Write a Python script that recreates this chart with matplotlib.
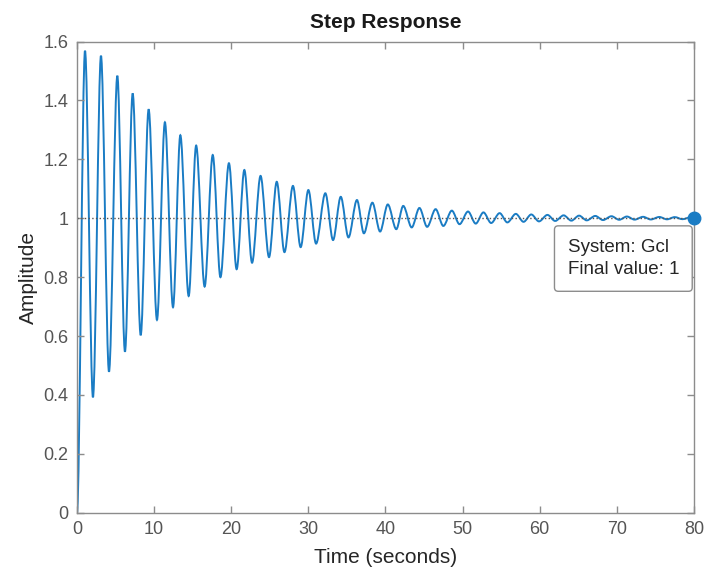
import numpy as np
import matplotlib
matplotlib.use('Agg')
import matplotlib.pyplot as plt
from matplotlib.path import Path
from matplotlib.patches import PathPatch

# extrema of the step response (time in s, amplitude)
peak_t = [1.04, 3.11, 5.23, 7.22, 9.29, 11.4, 13.4, 15.45, 17.6, 19.7, 21.7, 23.8, 25.9,
          28.0, 30.0, 32.2, 34.2, 36.3, 38.3, 40.3, 42.3, 44.4, 46.5, 48.6, 50.7, 52.7,
          54.8, 56.9, 58.9, 61.0, 63.1, 65.1, 67.2, 69.3, 71.3, 73.4, 75.5, 77.5, 79.6]
peak_y = [1.569, 1.552, 1.484, 1.424, 1.370, 1.326, 1.282, 1.247, 1.215, 1.187, 1.164,
          1.144, 1.124, 1.110, 1.096, 1.085, 1.073, 1.062, 1.053, 1.047, 1.042, 1.035,
          1.031, 1.026, 1.023, 1.020, 1.0175, 1.015, 1.013, 1.0115, 1.010, 1.009, 1.008,
          1.007, 1.006, 1.005, 1.0045, 1.004, 1.0035]
trough_t = [2.07, 4.15, 6.22, 8.26, 10.37, 12.45, 14.48, 16.55, 18.6, 20.7, 22.7, 24.9,
            26.9, 29.0, 31.0, 33.2, 35.2, 37.2, 39.3, 41.4, 43.4, 45.4, 47.5, 49.6, 51.7,
            53.7, 55.8, 57.9, 59.9, 62.0, 64.1, 66.1, 68.2, 70.3, 72.3, 74.4, 76.5, 78.5]
trough_y = [0.392, 0.479, 0.547, 0.603, 0.655, 0.698, 0.736, 0.768, 0.800, 0.827, 0.849,
            0.868, 0.885, 0.902, 0.914, 0.926, 0.935, 0.949, 0.955, 0.963, 0.969, 0.971,
            0.974, 0.980, 0.982, 0.984, 0.986, 0.988, 0.9895, 0.991, 0.992, 0.993, 0.994,
            0.995, 0.9955, 0.996, 0.9965, 0.997]
final_t = 80
final_y = 1.0

xticks = [0, 10, 20, 30, 40, 50, 60, 70, 80]
yticks = [0, 0.2, 0.4, 0.6, 0.8, 1.0, 1.2, 1.4, 1.6]
ytick_labels = ['0', '0.2', '0.4', '0.6', '0.8', '1', '1.2', '1.4', '1.6']

t = np.concatenate([[0.0], peak_t, trough_t, [final_t]])
y = np.concatenate([[0.0], peak_y, trough_y, [final_y]])
order = np.argsort(t)
t, y = t[order], y[order]

# smooth line through the extrema: cubic bezier pieces, flat at each extremum
verts = [(t[0], y[0])]
codes = [Path.MOVETO]
for i in range(len(t) - 1):
    d = t[i + 1] - t[i]
    verts += [(t[i] + d / 3, y[i]), (t[i + 1] - d / 3, y[i + 1]), (t[i + 1], y[i + 1])]
    codes += [Path.CURVE4] * 3

plt.rcParams['font.family'] = ['Liberation Sans', 'DejaVu Sans']

fig = plt.figure(figsize=(7.07, 5.73), dpi=100)
ax = fig.add_axes([0.1089, 0.1051, 0.8727, 0.8223])

ax.axhline(final_y, ls=':', color='#555555', lw=1.0)
ax.add_patch(PathPatch(Path(verts, codes), fill=False, ec='#1a7cc4', lw=1.4))
ax.plot(final_t, final_y, 'o', color='#1a7cc4', ms=9, clip_on=False, zorder=5)

ax.annotate('System: Gcl\nFinal value: 1', xy=(final_t, final_y),
            xytext=(-91, -29), textcoords='offset points',
            ha='left', va='center', fontsize=13.5, color='#262626',
            linespacing=1.4, zorder=6,
            bbox=dict(boxstyle='round,pad=0.7,rounding_size=0.2',
                      fc='white', ec='#8c8c8c', lw=1.0))

ax.set_xlim(0, 80)
ax.set_ylim(0, 1.6)
ax.set_xticks(xticks)
ax.set_yticks(yticks)
ax.set_yticklabels(ytick_labels)
ax.tick_params(direction='in', top=True, right=True, length=5, width=1,
               color='#8c8c8c', labelcolor='#555555', labelsize=13, pad=6)
for s in ax.spines.values():
    s.set_color('#8c8c8c')
    s.set_linewidth(1.0)

ax.set_title('Step Response', fontsize=15, fontweight='bold', color='#1a1a1a', pad=10)
ax.set_xlabel('Time (seconds)', fontsize=15, color='#262626', labelpad=7)
ax.set_ylabel('Amplitude', fontsize=15, color='#262626', labelpad=4)

fig.savefig('out.png', dpi=100)
